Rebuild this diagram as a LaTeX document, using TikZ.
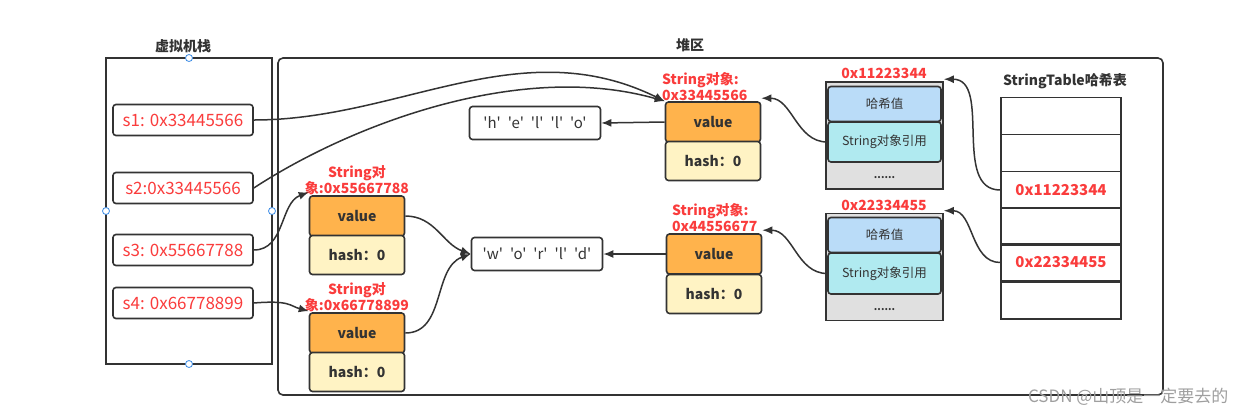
\documentclass[tikz,border=0pt]{standalone}
\usepackage{fontspec}
\setmainfont{Noto Sans CJK SC}
\newfontfamily\quotefont{Noto Sans CJK SC}[Ligatures=TeXOff]
\usetikzlibrary{arrows.meta}

\definecolor{linegray}{RGB}{51,51,51}
\definecolor{redtxt}{RGB}{250,60,60}
\definecolor{valorange}{RGB}{255,179,76}
\definecolor{hashyellow}{RGB}{255,243,196}
\definecolor{hashblue}{RGB}{186,220,248}
\definecolor{refcyan}{RGB}{176,234,240}
\definecolor{entrygray}{RGB}{224,224,224}
\definecolor{handleblue}{RGB}{60,140,230}

\newcommand{\gap}{\hspace{7pt}}

\tikzset{
    cell/.style={draw=linegray, line width=1.6pt, rounded corners=3pt, inner sep=0pt},
    varbox/.style={cell, fill=white, minimum width=140, minimum height=31, text=redtxt, font=\fontsize{17}{20}\selectfont},
    valbox/.style={cell, fill=valorange, minimum width=95, minimum height=40, text=linegray, font=\fontsize{14}{16}\selectfont\bfseries},
    hashbox/.style={valbox, fill=hashyellow, minimum height=39},
    charbox/.style={cell, fill=white, minimum width=131, minimum height=33, text=linegray, font=\fontsize{15}{17}\selectfont\quotefont},
    redlabel/.style={text=redtxt, font=\fontsize{14}{16}\selectfont\bfseries, inner sep=0pt},
    title/.style={text=linegray, font=\fontsize{14}{16}\selectfont\bfseries},
    entry/.style={draw=linegray, line width=1.6pt, fill=entrygray, minimum width=117, minimum height=107, inner sep=0pt},
    inner/.style={cell, minimum width=113, text=linegray, font=\fontsize{12.5}{15}\selectfont},
    tcell/.style={draw=linegray, line width=1.6pt, minimum width=120, minimum height=37, inner sep=0pt, text=redtxt, font=\fontsize{15}{18}\selectfont\bfseries},
    arr/.style={draw=linegray, line width=1.5pt, -{Latex[length=10pt,width=8pt]}},
    handle/.style={circle, draw=handleblue, fill=white, line width=0.8pt, minimum size=7, inner sep=0pt}
}

\begin{document}
\begin{tikzpicture}[x=1pt,y=-1pt]
    \useasboundingbox[fill=white] (0,0) rectangle (1244,416);

    % titles
    \node[title] (stacktitle) at (183,46) {虚拟机栈};
    \node[title] (heaptitle) at (690,45) {堆区};
    \node[title] (tabletitle) at (1065,81) {StringTable哈希表};

    % stack and heap frames
    \draw[linegray, line width=1.6pt] (106,58) rectangle (272,364);
    \draw[linegray, line width=1.6pt, rounded corners=5pt] (278,58) rectangle (1163,395);
    \node[handle] (hn) at (189,58) {};
    \node[handle] (hw) at (106,211) {};
    \node[handle] (he) at (272,211) {};
    \node[handle] (hs) at (189,364) {};

    % variables on the stack
    \node[varbox] (s1) at (183,120) {s1: 0x33445566};
    \node[varbox] (s2) at (183,188) {s2:0x33445566};
    \node[varbox] (s3) at (183,250) {s3: 0x55667788};
    \node[varbox] (s4) at (183,303) {s4: 0x66778899};

    % string objects
    \node[valbox] (v1) at (713,122) {value};
    \node[hashbox] (h1) at (713,161) {hash：0};
    \node[redlabel, anchor=south west, align=left] (l1) at (662,101) {String对象:\\0x33445566};

    \node[valbox] (v2) at (714,254) {value};
    \node[hashbox] (h2) at (714,294) {hash：0};
    \node[redlabel, anchor=south west, align=left] (l2) at (672,232) {String对象:\\0x44556677};

    \node[valbox] (v3) at (357,216) {value};
    \node[hashbox] (h3) at (357,255) {hash：0};
    \node[redlabel, anchor=south, align=center] (l3) at (357,195) {String对\\象:0x55667788};

    \node[valbox] (v4) at (357,333) {value};
    \node[hashbox] (h4) at (357,372) {hash：0};
    \node[redlabel, anchor=south, align=center] (l4) at (357,312) {String对\\象:0x66778899};

    % char arrays
    \node[charbox] (hello) at (535,123) {'h'\gap'e'\gap'l'\gap'l'\gap'o'};
    \node[charbox] (world) at (537,254) {'w'\gap'o'\gap'r'\gap'l'\gap'd'};

    % hash table entries
    \node[entry] (e1) at (884.5,135.5) {};
    \node[inner, fill=hashblue, minimum height=35] (hv1) at (884.5,104) {哈希值};
    \node[inner, fill=refcyan, minimum height=40] (r1) at (884.5,142) {String对象引用};
    \node[text=linegray, font=\bfseries] (d1) at (884.5,178) {......};
    \node[redlabel] (a1) at (884,73) {0x11223344};

    \node[entry] (e2) at (884.5,267) {};
    \node[inner, fill=hashblue, minimum height=35] (hv2) at (884.5,235) {哈希值};
    \node[inner, fill=refcyan, minimum height=41] (r2) at (884.5,273.5) {String对象引用};
    \node[text=linegray, font=\bfseries] (d2) at (884.5,310) {......};
    \node[redlabel] (a2) at (884,205) {0x22334455};

    % StringTable
    \foreach \i/\y/\txt in {1/116/, 2/153/, 3/190/0x11223344, 4/226.5/, 5/262.5/0x22334455, 6/300.5/}
        \node[tcell] (t\i) at (1061,\y) {\txt};

    % references
    \draw[arr] (s1.east) .. controls (400,120) and (520,30) .. (v1.north west);
    \draw[arr] (s2.east) .. controls (350,125) and (520,60) .. (v1.north west);
    \draw[arr] (s3.east) .. controls (285,250) and (280,203) .. ([yshift=3pt]v3.north west);
    \draw[arr] (s4.east) .. controls (290,300) and (290,306) .. ([yshift=1pt]v4.north west);
    \draw[arr] (v1.west) -- (hello.east);
    \draw[arr] (v2.west) -- (world.east);
    \draw[arr] (v3.east) to[out=0, in=160] (world.west);
    \draw[arr] (v4.east) to[out=0, in=200] (world.west);
    \draw[arr] (r1.west) to[out=180, in=0] ([yshift=3pt]v1.north east);
    \draw[arr] (r2.west) to[out=180, in=0] ([yshift=3pt]v2.north east);
    \draw[arr] (t3.west) to[out=180, in=0] ([yshift=2pt]e1.north east);
    \draw[arr] (t5.west) to[out=180, in=0] ([yshift=2pt]e2.north east);

    % watermark
    \node[text=gray!75, font=\fontsize{17}{20}\selectfont, anchor=east] (mark) at (1232,397) {CSDN @山顶是一定要去的};
\end{tikzpicture}
\end{document}
